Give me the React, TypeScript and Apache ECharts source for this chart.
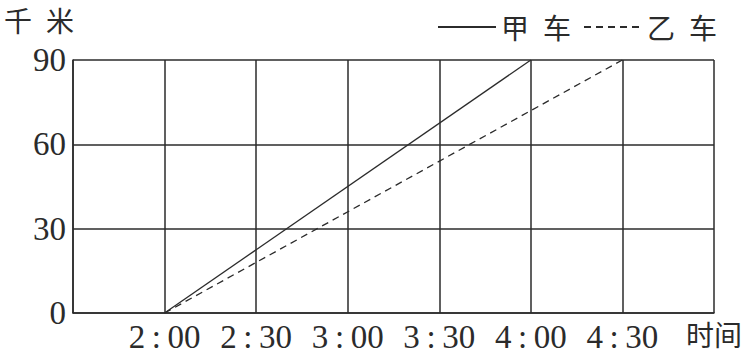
import React, { useEffect, useRef } from "react";
import * as echarts from "echarts";

const seriesNames = ["甲车", "乙车"];
const jiaData: [number, number][] = [[120, 0], [240, 90]];
const yiData: [number, number][] = [[120, 0], [270, 90]];
const xMin = 90;
const xMax = 300;
const xStep = 30;
const yTicks = [0, 30, 60, 90];
const yAxisName = "千米";
const xAxisName = "时间";

const ink = "#2b2b2b";
const serif = "'Liberation Serif', 'DejaVu Serif', serif";

function fmtTime(v: number): string {
  if (v === xMin || v === xMax) return "";
  const h = Math.floor(v / 60);
  const m = v % 60;
  return `${h}\u2009:\u2009${m < 10 ? "0" + m : m}`;
}

export default function App() {
  const ref = useRef<HTMLDivElement>(null);
  useEffect(() => {
    if (!ref.current) return;
    const chart = echarts.init(ref.current, undefined, { renderer: "svg" });
    chart.setOption({
      animation: false,
      backgroundColor: "#ffffff",
      grid: { left: 73, top: 60, right: 30, bottom: 45 },
      legend: {
        right: 22,
        top: 8,
        itemWidth: 58,
        itemHeight: 10,
        itemGap: 12,
        itemStyle: { opacity: 0 },
        textStyle: {
          fontFamily: "Noto Sans CJK SC",
          fontSize: 28,
          color: ink,
        },
        formatter: (name: string) => name.split("").join("\u2002"),
        data: seriesNames,
      },
      xAxis: {
        type: "value",
        min: xMin,
        max: xMax,
        interval: xStep,
        axisLine: { show: true, lineStyle: { color: ink, width: 1.5 } },
        axisTick: { show: false },
        splitLine: { show: true, lineStyle: { color: ink, width: 1.5 } },
        axisLabel: {
          formatter: fmtTime,
          fontFamily: serif,
          fontSize: 33,
          color: ink,
          margin: 7,
        },
      },
      yAxis: {
        type: "value",
        min: yTicks[0],
        max: yTicks[yTicks.length - 1],
        interval: 30,
        axisLine: { show: true, lineStyle: { color: ink, width: 1.5 } },
        axisTick: { show: false },
        splitLine: { show: true, lineStyle: { color: ink, width: 1.5 } },
        axisLabel: {
          fontFamily: serif,
          fontSize: 33,
          color: ink,
          margin: 7,
        },
      },
      graphic: [
        {
          type: "text",
          left: 4,
          top: 6,
          style: {
            text: yAxisName.split("").join("\u2002"),
            font: '28px "Noto Sans CJK SC"',
            fill: ink,
          },
        },
        {
          type: "text",
          x: 686,
          y: 320,
          style: {
            text: xAxisName,
            font: '28px "Noto Sans CJK SC"',
            fill: ink,
          },
        },
      ],
      series: [
        {
          name: seriesNames[0],
          type: "line",
          data: jiaData,
          symbol: "none",
          lineStyle: { color: ink, width: 1.3, type: "solid" },
          itemStyle: { color: ink },
        },
        {
          name: seriesNames[1],
          type: "line",
          data: yiData,
          symbol: "none",
          lineStyle: { color: ink, width: 1.3, type: [7, 5] },
          itemStyle: { color: ink },
        },
      ],
    });
    return () => chart.dispose();
  }, []);
  return (
    <div
      ref={ref}
      style={{ position: "fixed", left: 0, top: 0, width: 744, height: 358, background: "#fff" }}
    />
  );
}
